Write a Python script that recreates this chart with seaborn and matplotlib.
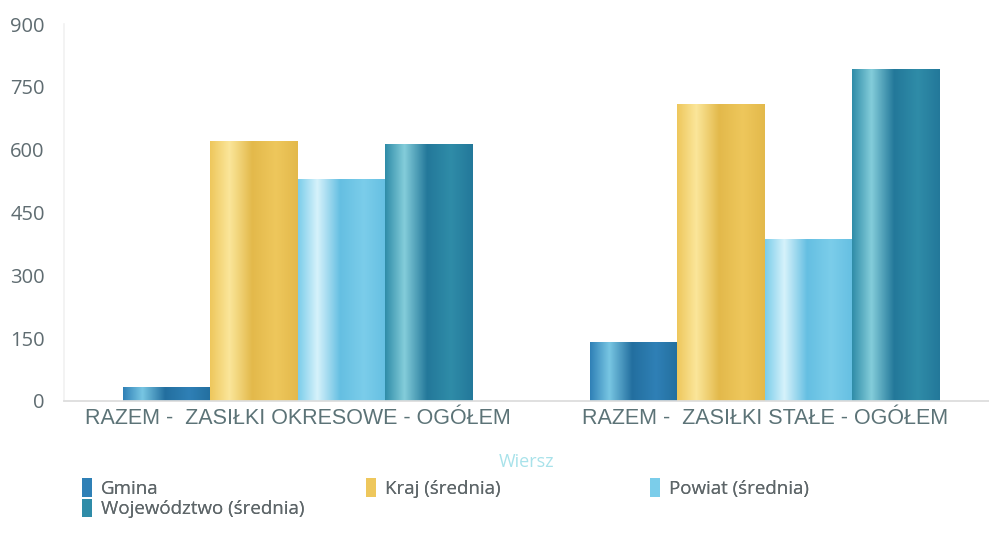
import numpy as np
import pandas as pd
import matplotlib
matplotlib.use("Agg")
import matplotlib.pyplot as plt
import seaborn as sns
from matplotlib.colors import LinearSegmentedColormap
from matplotlib.patches import Patch

# ---------- DATA ----------
categories = ["RAZEM -  ZASIŁKI OKRESOWE - OGÓŁEM", "RAZEM -  ZASIŁKI STAŁE - OGÓŁEM"]
series = ["Gmina", "Kraj (średnia)", "Powiat (średnia)", "Województwo (średnia)"]
gmina = [33, 142]
kraj = [622, 709]
powiat = [530, 387]
wojewodztwo = [614, 792]
y_ticks = [0, 150, 300, 450, 600, 750, 900]

# (base, highlight, shadow) per series for the "cylinder" look
COLORS = {
    "Gmina": ("#2f80b6", "#78c6e3", "#236f9f"),
    "Kraj (średnia)": ("#eec75c", "#fbe69a", "#e3b94b"),
    "Powiat (średnia)": ("#7bcdea", "#d6f2fb", "#65bfe2"),
    "Województwo (średnia)": ("#2f8ca8", "#84cdda", "#23789a"),
}

df = pd.DataFrame({
    "Wiersz": categories * 4,
    "series": [s for s in series for _ in categories],
    "value": gmina + kraj + powiat + wojewodztwo,
})

sns.set_theme(style="white")
plt.rcParams["font.family"] = ["Open Sans", "DejaVu Sans"]

fig = plt.figure(figsize=(9.89, 5.5), dpi=100)
ax = fig.add_axes([0.065, 0.271, 0.935, 0.685])

sns.barplot(data=df, x="Wiersz", y="value", hue="series", hue_order=series,
            palette={k: v[0] for k, v in COLORS.items()}, width=0.75,
            saturation=1, gap=0, ax=ax, legend=False)

# gradient overlay on each bar, clipped to the bar
grad = np.linspace(0, 1, 256).reshape(1, -1)
for cont, name in zip(ax.containers, series):
    base, light, dark = COLORS[name]
    cmap = LinearSegmentedColormap.from_list(
        name, [(0, base), (0.22, light), (0.48, dark), (0.75, base), (1, dark)])
    for p in cont.patches:
        x0, y0 = p.get_x(), p.get_y()
        w, h = p.get_width(), p.get_height()
        im = ax.imshow(grad, cmap=cmap, aspect="auto",
                       extent=(x0, x0 + w, y0, y0 + h), zorder=p.get_zorder() + 0.1)
        im.set_clip_path(p)

ax.set_xlim(-0.5, 1.48)
ax.set_ylim(0, 900)
ax.set_yticks(y_ticks)
ax.tick_params(axis="y", labelsize=14.5, labelcolor="#5f6c71", length=0, pad=14)
ax.tick_params(axis="x", length=0, pad=5)
for t in ax.get_xticklabels():
    t.set_fontfamily(["Liberation Sans", "DejaVu Sans"])
    t.set_fontsize(15.5)
    t.set_color("#5c7377")
ax.set_ylabel("")
ax.set_xlabel("Wiersz", color="#a8e2ea", fontsize=13, labelpad=17)

for s in ["top", "right"]:
    ax.spines[s].set_visible(False)
ax.spines["left"].set_color("#f2f2f2")
ax.spines["bottom"].set_color("#dcdcdc")

# legend: three columns placed like the reference, filled row by row
handles = {s: Patch(facecolor=COLORS[s][0], edgecolor="none") for s in series}
columns = [(0.083, ["Gmina", "Województwo (średnia)"]),
           (0.370, ["Kraj (średnia)"]),
           (0.657, ["Powiat (średnia)"])]
for x, names in columns:
    leg = fig.legend([handles[s] for s in names], names, loc="upper left",
                     bbox_to_anchor=(x, 0.131), frameon=False, fontsize=13.5,
                     handlelength=0.55, handleheight=1.15, handletextpad=0.45,
                     labelspacing=0.05, borderpad=0, borderaxespad=0,
                     labelcolor="#5e6669")
    fig.add_artist(leg)

fig.savefig("out.png", dpi=100)
